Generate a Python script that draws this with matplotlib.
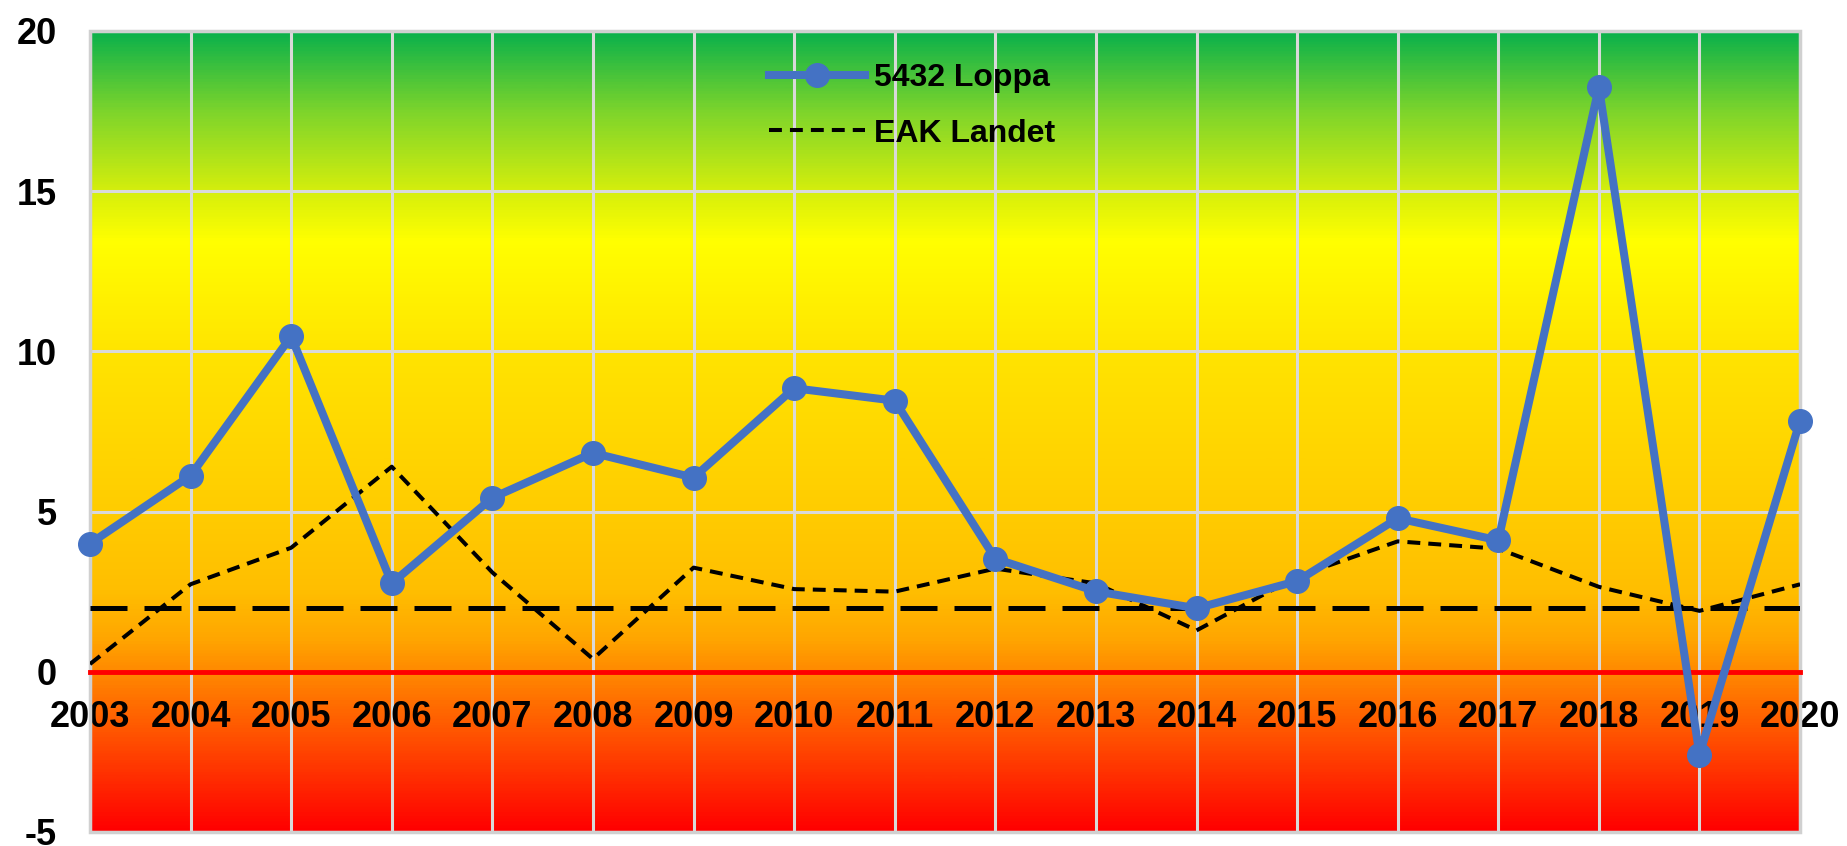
import numpy as np
import matplotlib
matplotlib.use('Agg')
import matplotlib.pyplot as plt
from matplotlib.colors import LinearSegmentedColormap
from matplotlib.patches import Rectangle

plt.rcParams['font.family'] = ['Liberation Sans', 'DejaVu Sans']
plt.rcParams['font.weight'] = 'bold'
plt.rcParams['axes.unicode_minus'] = False

# Data
years = ['2003', '2004', '2005', '2006', '2007', '2008', '2009', '2010', '2011',
         '2012', '2013', '2014', '2015', '2016', '2017', '2018', '2019', '2020']
loppa = [4.0, 6.12, 10.47, 2.76, 5.43, 6.83, 6.06, 8.85, 8.46,
         3.53, 2.51, 1.98, 2.83, 4.79, 4.1, 18.25, -2.59, 7.84]
eak_landet = [0.24, 2.73, 3.87, 6.4, 3.1, 0.4, 3.25, 2.58, 2.5,
              3.22, 2.76, 1.29, 2.97, 4.07, 3.84, 2.65, 1.9, 2.73]
target = 2.0

# Background gradient stops (value, colour)
grad_stops = [(-5, '#ff0000'), (0, '#ff8a00'), (1, '#ffa600'), (2.5, '#ffbe00'),
              (5, '#ffcc00'), (10, '#ffe400'), (13.5, '#ffff00'), (15, '#d6ef0c'),
              (17.5, '#7fd52b'), (20, '#0cb14b')]
ymin, ymax = -5, 20

x = np.arange(len(years))

fig = plt.figure(figsize=(18.47, 8.46), dpi=100)
ax = fig.add_axes([0.0487, 0.0166, 0.9259, 0.9468])

cmap = LinearSegmentedColormap.from_list(
    'bg', [((v - ymin) / (ymax - ymin), c) for v, c in grad_stops])
grad = np.linspace(ymin, ymax, 600).reshape(-1, 1)
ax.imshow(grad, extent=[0, len(years) - 1, ymin, ymax], origin='lower',
          aspect='auto', cmap=cmap, vmin=ymin, vmax=ymax, zorder=0)

ax.set_xlim(0, len(years) - 1)
ax.set_ylim(ymin, ymax)
ax.set_xticks(x)
ax.set_xticklabels(years)
ax.set_yticks(np.arange(-5, 21, 5))
ax.grid(True, color='#d9d9d9', linewidth=2.2, zorder=1)
ax.tick_params(axis='x', length=0, labelsize=26, pad=20)
ax.tick_params(axis='y', length=0, labelsize=26, pad=24)

# zero line carries the x labels
ax.spines['bottom'].set_position(('data', 0))
ax.spines['bottom'].set_color('#ff0000')
ax.spines['bottom'].set_linewidth(3.5)
ax.spines['bottom'].set_zorder(2.5)
for s in ['top', 'left', 'right']:
    ax.spines[s].set_visible(False)
ax.add_patch(Rectangle((0, 0), 1, 1, transform=ax.transAxes, fill=False,
                       edgecolor='#d0d0d0', linewidth=2.5, clip_on=False, zorder=2))

ax.axhline(target, color='black', linewidth=3.6, dashes=(7.4, 3.4), zorder=2.6)
ax.plot(x, eak_landet, color='black', linewidth=2.9, dashes=(3.2, 2.0),
        label='EAK Landet', zorder=3)
ax.plot(x, loppa, color='#4472c4', linewidth=5.8, marker='o', markersize=17,
        label='5432 Loppa', zorder=4, clip_on=False)

handles, labels = ax.get_legend_handles_labels()
ax.legend(handles[::-1], labels[::-1], loc='upper left', bbox_to_anchor=(0.397, 0.96),
          frameon=False, fontsize=23, handlelength=3.0, handletextpad=0.3,
          labelspacing=0.8, borderpad=0, borderaxespad=0)

plt.savefig('out.png', dpi=100)
